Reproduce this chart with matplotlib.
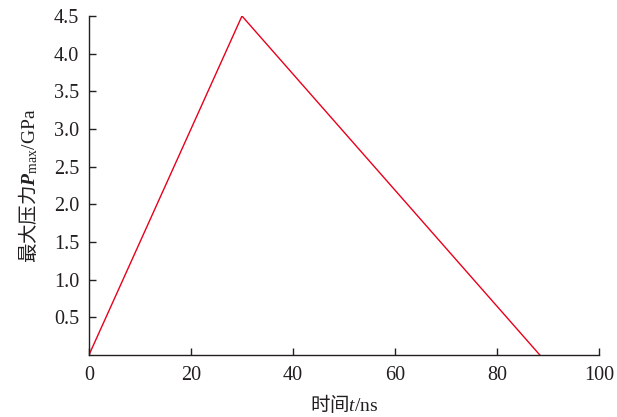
import matplotlib
matplotlib.use("Agg")
import matplotlib.pyplot as plt

# Data
time_ns = [0, 30, 88.4]
pressure_gpa = [0, 4.5, 0]
x_ticks = [0, 20, 40, 60, 80, 100]
y_ticks = [0.5, 1.0, 1.5, 2.0, 2.5, 3.0, 3.5, 4.0, 4.5]

plt.rcParams['font.family'] = ['Liberation Serif', 'Noto Sans CJK SC']
plt.rcParams['mathtext.fontset'] = 'custom'
plt.rcParams['mathtext.rm'] = 'Noto Sans CJK SC'
plt.rcParams['mathtext.sf'] = 'Liberation Serif'
plt.rcParams['mathtext.it'] = 'Liberation Serif:italic'
plt.rcParams['mathtext.bf'] = 'Liberation Serif:bold:italic'

fig = plt.figure(figsize=(6.17, 4.17), dpi=100)
ax = fig.add_axes([0.1442, 0.1487, 0.8266, 0.8129])

ax.plot(time_ns, pressure_gpa, color='#e8001c', lw=1.0)

ax.set_xlim(0, 100)
ax.set_ylim(0, 4.5)
ax.set_xticks(x_ticks)
ax.set_xticklabels([str(v) for v in x_ticks])
ax.set_yticks(y_ticks)
ax.set_yticklabels([f"{v:.1f}" for v in y_ticks])

for s in ['top', 'right']:
    ax.spines[s].set_visible(False)
for s in ['left', 'bottom']:
    ax.spines[s].set_color('#231f20')
    ax.spines[s].set_linewidth(1.0)

ax.tick_params(direction='in', length=5, width=1.0, color='#231f20',
               labelsize=14.5, labelcolor='#231f20')
ax.tick_params(axis='x', pad=8)
ax.tick_params(axis='y', pad=7)

ax.set_xlabel('时间$\\mathit{t}\\mathsf{/ns}$', fontsize=14, color='#231f20', labelpad=6,
              family=['Noto Sans CJK SC'])
ax.set_ylabel('最大压力$\\mathbf{P}_{\\mathsf{max}}\\mathsf{/GPa}$', fontsize=14,
              color='#231f20', labelpad=10, family=['Noto Sans CJK SC'])

fig.savefig('out.png', dpi=100)
